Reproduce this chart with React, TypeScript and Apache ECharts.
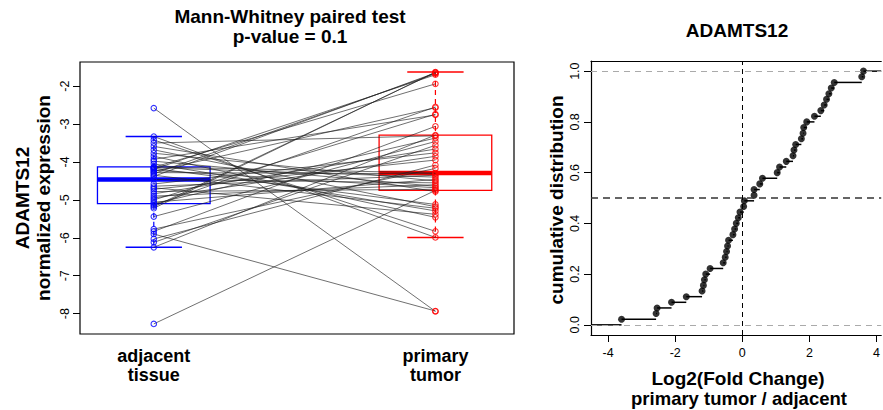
import React, { useEffect, useRef } from 'react';
import * as echarts from 'echarts';

// ---------- data ----------
const groupLabels = ['adjacent\ntissue', 'primary\ntumor'];
const groupPositions = [1, 2];

// paired samples (same index = same patient)
const adjacent = [
  -8.27, -6.25, -6.12, -6.03, -5.9, -5.83, -5.77, -5.44, -5.22, -5.18,
  -5.14, -5.1, -5.06, -5.0, -4.95, -4.9, -4.84, -4.78, -4.72, -4.68,
  -4.64, -4.58, -4.46, -4.38, -4.35, -4.31, -4.28, -4.25, -4.22, -4.19,
  -4.17, -4.15, -4.14, -4.13, -4.05, -3.98, -3.93, -3.85, -3.77, -3.68,
  -3.59, -3.5, -3.42, -3.33, -2.58,
];
const primary = [
  -4.75, -3.29, -3.56, -4.08, -7.93, -3.06, -4.17, -3.46, -1.63, -1.64,
  -2.55, -3.37, -4.46, -2.74, -3.85, -4.6, -3.66, -4.72, -3.95, -5.38,
  -4.35, -3.76, -4.55, -1.65, -5.22, -1.67, -4.31, -2.57, -4.68, -1.7,
  -5.12, -4.4, -1.94, -4.29, -5.29, -4.64, -2.76, -5.46, -4.5, -5.18,
  -4.78, -3.31, -5.83, -5.99, -7.94,
];

// box statistics [lower whisker, Q1, median, Q3, upper whisker]
const adjacentBox = [-6.25, -5.1, -4.46, -4.13, -3.33];
const primaryBox = [-5.99, -4.75, -4.29, -3.29, -1.63];

// log2 fold change, sorted (ECDF)
const log2FC = [
  -3.6, -2.57, -2.54, -2.11, -1.67, -1.2, -1.16, -1.13, -1.09, -0.96,
  -0.57, -0.51, -0.47, -0.44, -0.41, -0.28, -0.23, -0.18, -0.12, -0.07,
  0.04, 0.06, 0.35, 0.35, 0.52, 0.6, 1.04, 1.11, 1.31, 1.51,
  1.54, 1.59, 1.76, 1.81, 1.83, 1.92, 2.15, 2.34, 2.44, 2.51,
  2.58, 2.65, 2.74, 3.56, 3.61,
];

const leftYTicks = [-8, -7, -6, -5, -4, -3, -2];
const rightXTicks = [-4, -2, 0, 2, 4];
const rightYTicks = [0, 0.2, 0.4, 0.6, 0.8, 1.0];

// ---------- styling ----------
const FONT = '"Liberation Sans", Arial, Helvetica, sans-serif';
const BLUE = '#0000ff';
const RED = '#ff0000';
const boxColors = [BLUE, RED];

const leftX = { min: 0.738, max: 2.279 };
const leftY = { min: -8.536, max: -1.364 };
const rightX = { min: -4.51, max: 4.14 };
const rightY = { min: -0.04, max: 1.04 };
const boxHalf = 0.2;
const frameLine = { show: true, onZero: false, lineStyle: { color: '#000', width: 1.2 } };

function txt(text: string, x: number, y: number, size: number, rotate = false) {
  return {
    type: 'text', x, y, rotation: rotate ? Math.PI / 2 : 0,
    style: { text, font: `bold ${size}px ${FONT}`, fill: '#000', textAlign: 'center', textVerticalAlign: 'middle' },
  };
}

function buildOption() {
  const n = log2FC.length;
  const ecdfPoints = log2FC.map((v, i) => [v, (i + 1) / n]);
  const steps: number[][] = [[rightX.min, 0, log2FC[0]]];
  log2FC.forEach((v, i) => {
    steps.push([v, (i + 1) / n, i + 1 < n ? log2FC[i + 1] : rightX.max]);
  });

  const boxData = [
    [groupPositions[0], ...adjacentBox, 0],
    [groupPositions[1], ...primaryBox, 1],
  ];
  const pairData = adjacent.map((a, i) => [a, primary[i]]);

  const tickLabel = { fontFamily: FONT, fontSize: 12.5, color: '#000' };

  return {
    animation: false,
    backgroundColor: '#fff',
    grid: [
      { left: 80, top: 62, width: 434, height: 272, show: true, borderColor: '#000', borderWidth: 1.2, backgroundColor: 'transparent' },
      { left: 591, top: 61, width: 292, height: 274, show: false },
    ],
    xAxis: [
      {
        gridIndex: 0, type: 'value', min: leftX.min, max: leftX.max,
        axisLine: { show: false }, splitLine: { show: false },
        axisTick: { show: false },
        axisLabel: {
          customValues: groupPositions,
          formatter: (v: number) => groupLabels[groupPositions.indexOf(Math.round(v))] ?? '',
          fontFamily: FONT, fontSize: 18, fontWeight: 'bold', color: '#000', lineHeight: 19, margin: 12,
        },
      },
      {
        gridIndex: 1, type: 'value', position: 'bottom', min: rightX.min, max: rightX.max,
        axisLine: frameLine, splitLine: { show: false },
        axisTick: { show: true, customValues: rightXTicks, length: 7, lineStyle: { color: '#000', width: 1 } },
        axisLabel: { customValues: rightXTicks, ...tickLabel, margin: 11 },
      },
      {
        gridIndex: 1, type: 'value', position: 'top', min: rightX.min, max: rightX.max,
        axisLine: frameLine, splitLine: { show: false },
        axisTick: { show: false }, axisLabel: { show: false },
      },
    ],
    yAxis: [
      {
        gridIndex: 0, type: 'value', min: leftY.min, max: leftY.max,
        axisLine: { show: false }, splitLine: { show: false },
        axisTick: { show: true, customValues: leftYTicks, length: 7, lineStyle: { color: '#000', width: 1 } },
        axisLabel: { customValues: leftYTicks, ...tickLabel, rotate: 90, margin: 9 },
      },
      {
        gridIndex: 1, type: 'value', min: rightY.min, max: rightY.max,
        axisLine: frameLine, splitLine: { show: false },
        axisTick: { show: true, customValues: rightYTicks, length: 7, lineStyle: { color: '#000', width: 1 } },
        axisLabel: { customValues: rightYTicks, ...tickLabel, rotate: 90, margin: 10, formatter: (v: number) => v.toFixed(1) },
      },
    ],
    graphic: [
      txt('Mann-Whitney paired test', 290, 16, 19),
      txt('p-value = 0.1', 290, 36, 19),
      txt('ADAMTS12', 737, 30, 19),
      txt('ADAMTS12', 22, 198, 19, true),
      txt('normalized expression', 43, 198, 19, true),
      txt('cumulative distribution', 556, 200, 19, true),
      txt('Log2(Fold Change)', 738, 378, 19),
      txt('primary tumor / adjacent', 739, 398, 18.5),
    ],
    series: [
      {
        type: 'custom', name: 'boxes', xAxisIndex: 0, yAxisIndex: 0, z: 1,
        data: boxData,
        encode: { x: 0, y: [1, 2, 3, 4, 5] },
        renderItem: (params: any, api: any) => {
          const x = api.value(0);
          const lo = api.value(1), q1 = api.value(2), med = api.value(3), q3 = api.value(4), hi = api.value(5);
          const color = boxColors[api.value(6)];
          const tl = api.coord([x - boxHalf, q3]);
          const br = api.coord([x + boxHalf, q1]);
          const m1 = api.coord([x - boxHalf, med]);
          const m2 = api.coord([x + boxHalf, med]);
          const c = api.coord([x, hi]);
          const cq3 = api.coord([x, q3]);
          const cq1 = api.coord([x, q1]);
          const cl = api.coord([x, lo]);
          const capL = api.coord([x - boxHalf / 2, hi]);
          const capR = api.coord([x + boxHalf / 2, hi]);
          const capL2 = api.coord([x - boxHalf / 2, lo]);
          const capR2 = api.coord([x + boxHalf / 2, lo]);
          return {
            type: 'group',
            children: [
              { type: 'line', shape: { x1: c[0], y1: c[1], x2: cq3[0], y2: cq3[1] }, style: { stroke: color, lineWidth: 1.2, lineDash: [5, 4] } },
              { type: 'line', shape: { x1: cq1[0], y1: cq1[1], x2: cl[0], y2: cl[1] }, style: { stroke: color, lineWidth: 1.2, lineDash: [5, 4] } },
              { type: 'line', shape: { x1: capL[0], y1: capL[1], x2: capR[0], y2: capR[1] }, style: { stroke: color, lineWidth: 1.5 } },
              { type: 'line', shape: { x1: capL2[0], y1: capL2[1], x2: capR2[0], y2: capR2[1] }, style: { stroke: color, lineWidth: 1.5 } },
              { type: 'rect', shape: { x: tl[0], y: tl[1], width: br[0] - tl[0], height: br[1] - tl[1] }, style: { fill: 'none', stroke: color, lineWidth: 1.3 } },
              { type: 'line', shape: { x1: m1[0], y1: m1[1], x2: m2[0], y2: m2[1] }, style: { stroke: color, lineWidth: 4.5 } },
            ],
          };
        },
      },
      {
        type: 'custom', name: 'pairs', xAxisIndex: 0, yAxisIndex: 0, z: 2,
        data: pairData,
        encode: { y: [0, 1] },
        renderItem: (params: any, api: any) => {
          const a = api.coord([groupPositions[0], api.value(0)]);
          const b = api.coord([groupPositions[1], api.value(1)]);
          return { type: 'line', shape: { x1: a[0], y1: a[1], x2: b[0], y2: b[1] }, style: { stroke: 'rgba(30,30,30,0.8)', lineWidth: 0.8 } };
        },
      },
      {
        type: 'scatter', name: 'adjacent', xAxisIndex: 0, yAxisIndex: 0, z: 3,
        data: adjacent.map((v) => [groupPositions[0], v]),
        symbol: 'circle', symbolSize: 5.5,
        itemStyle: { color: 'transparent', borderColor: BLUE, borderWidth: 1.1 },
      },
      {
        type: 'scatter', name: 'primary', xAxisIndex: 0, yAxisIndex: 0, z: 3,
        data: primary.map((v) => [groupPositions[1], v]),
        symbol: 'circle', symbolSize: 5.5,
        itemStyle: { color: 'transparent', borderColor: RED, borderWidth: 1.1 },
      },
      {
        type: 'custom', name: 'steps', xAxisIndex: 1, yAxisIndex: 1, z: 2, clip: true,
        data: steps,
        encode: { x: [0, 2], y: 1 },
        renderItem: (params: any, api: any) => {
          const a = api.coord([api.value(0), api.value(1)]);
          const b = api.coord([api.value(2), api.value(1)]);
          return { type: 'line', shape: { x1: a[0], y1: a[1], x2: b[0], y2: b[1] }, style: { stroke: '#000', lineWidth: 1.5 } };
        },
      },
      {
        type: 'scatter', name: 'ecdf', xAxisIndex: 1, yAxisIndex: 1, z: 3,
        data: ecdfPoints,
        symbol: 'circle', symbolSize: 7,
        itemStyle: { color: '#000' },
        markLine: {
          silent: true, symbol: 'none', label: { show: false },
          data: [
            { yAxis: 0, lineStyle: { color: '#aaaaaa', type: [6, 5], width: 1 } },
            { yAxis: 1, lineStyle: { color: '#aaaaaa', type: [6, 5], width: 1 } },
            { yAxis: 0.5, lineStyle: { color: '#333333', type: [7, 5], width: 1.6 } },
            { xAxis: 0, lineStyle: { color: '#000000', type: [5, 4], width: 1 } },
          ],
        },
      },
    ],
  };
}

export default function App() {
  const ref = useRef<HTMLDivElement>(null);
  useEffect(() => {
    const chart = echarts.init(ref.current as HTMLDivElement, null, { renderer: 'svg' });
    chart.setOption(buildOption() as any);
    return () => chart.dispose();
  }, []);
  return (
    <div
      ref={ref}
      style={{ position: 'fixed', left: 0, top: 0, width: 883, height: 410, background: '#fff' }}
    />
  );
}
